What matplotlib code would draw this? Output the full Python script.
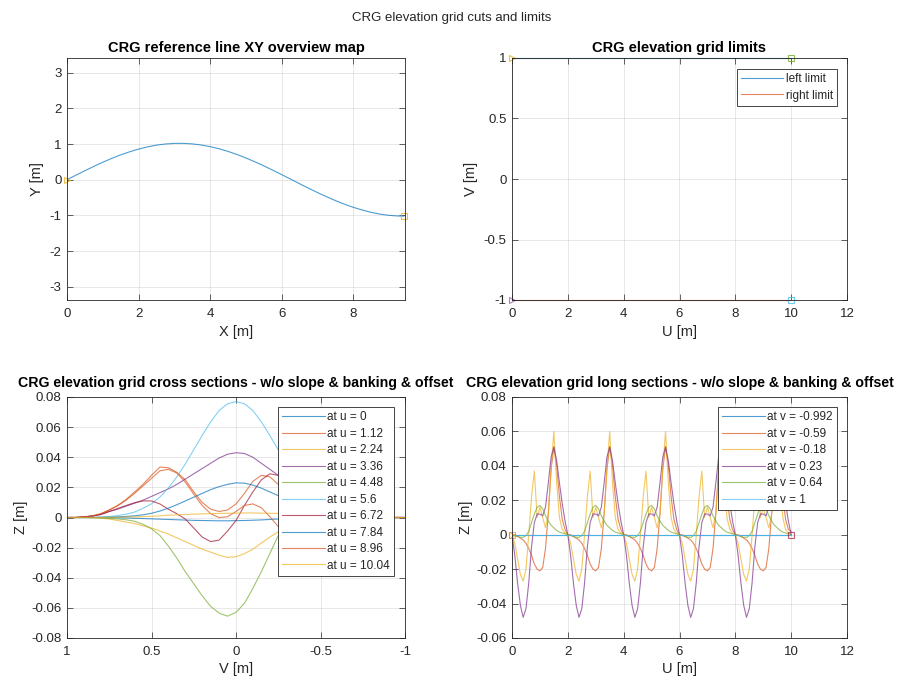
import numpy as np
import matplotlib
matplotlib.use('Agg')
import matplotlib.pyplot as plt
from matplotlib.ticker import FuncFormatter, MultipleLocator

plt.rcParams['font.family'] = ['Liberation Sans', 'DejaVu Sans']
plt.rcParams['axes.unicode_minus'] = False

# ---------------- data ----------------
# reference line XY
ref_x = [0.0, 0.25, 0.5, 0.75, 1.0, 1.25, 1.5, 1.75, 2.0, 2.25, 2.5, 2.75, 3.0, 3.25,
         3.5, 3.75, 4.0, 4.25, 4.5, 4.75, 5.0, 5.25, 5.5, 5.75, 6.0, 6.25, 6.5, 6.75,
         7.0, 7.25, 7.5, 7.75, 8.0, 8.25, 8.5, 8.75, 9.0, 9.25, 9.42]
ref_y = [0.0, 0.127, 0.252, 0.373, 0.489, 0.597, 0.696, 0.782, 0.858, 0.920, 0.968,
         1.001, 1.017, 1.019, 1.004, 0.973, 0.927, 0.867, 0.794, 0.708, 0.610, 0.503,
         0.390, 0.269, 0.144, 0.017, -0.110, -0.236, -0.358, -0.474, -0.583, -0.683,
         -0.772, -0.848, -0.913, -0.964, -0.998, -1.016, -1.02]

# grid limits
lim_u = [0.0, 10.0]
left_limit = [1.0, 1.0]
right_limit = [-1.0, -1.0]

# cross sections (v from 1 to -1)
cs_v = np.round(np.linspace(1.0, -1.0, 41), 3)
cs_labels = ['at u = 0', 'at u = 1.12', 'at u = 2.24', 'at u = 3.36', 'at u = 4.48',
             'at u = 5.6', 'at u = 6.72', 'at u = 7.84', 'at u = 8.96', 'at u = 10.04']
cs_u0 = [0, 0, 0, 0, 0, -0.0001, -0.0002, -0.0003, -0.0005, -0.0007,
         -0.0009, -0.0011, -0.0013, -0.0015, -0.0017, -0.0019, -0.002, -0.0021, -0.0022, -0.0022,
         -0.0021, -0.002, -0.0018, -0.0016, -0.0013, -0.001, -0.0008, -0.0006, -0.0004, -0.0003,
         -0.0002, -0.0001, 0, 0, 0, 0, 0, 0, 0, 0, 0]
cs_u112 = [0, 0, 0.0003, 0.001, 0.0025, 0.005, 0.008, 0.012, 0.017, 0.022,
           0.028, 0.0335, 0.033, 0.030, 0.025, 0.017, 0.010, 0.0055, 0.004, 0.005,
           0.009, 0.016, 0.024, 0.028, 0.027, 0.022, 0.016, 0.011, 0.007, 0.004,
           0.0025, 0.0015, 0.0008, 0.0004, 0.0002, 0, 0, 0, 0, 0, 0]
cs_u224 = [0, 0, 0, -0.0002, -0.0005, -0.001, -0.002, -0.003, -0.004, -0.0055,
           -0.007, -0.009, -0.011, -0.0135, -0.016, -0.0185, -0.021, -0.023, -0.025, -0.0265,
           -0.026, -0.024, -0.021, -0.017, -0.013, -0.0095, -0.007, -0.005, -0.0035, -0.0025,
           -0.0018, -0.0012, -0.0008, -0.0005, -0.0003, -0.0001, 0, 0, 0, 0, 0]
cs_u336 = [0, 0, 0.0003, 0.001, 0.002, 0.004, 0.0055, 0.0075, 0.0095, 0.0115,
           0.014, 0.0165, 0.019, 0.022, 0.0255, 0.029, 0.0325, 0.036, 0.0395, 0.042,
           0.043, 0.0425, 0.040, 0.036, 0.032, 0.028, 0.023, 0.018, 0.014, 0.010,
           0.007, 0.005, 0.003, 0.002, 0.001, 0.0005, 0.0002, 0, 0, 0, 0]
cs_u448 = [0, 0, 0, -0.0001, -0.0003, -0.0006, -0.001, -0.0015, -0.0025, -0.0045,
           -0.0075, -0.012, -0.019, -0.027, -0.036, -0.044, -0.052, -0.059, -0.0635, -0.0655,
           -0.063, -0.057, -0.047, -0.036, -0.024, -0.012, -0.005, -0.001, 0.0005, 0.0005,
           0.0003, 0.0001, 0, 0, 0, 0, 0, 0, 0, 0, 0]
cs_u560 = [0, 0, 0, 0.0001, 0.0003, 0.0006, 0.0013, 0.0022, 0.0036, 0.0061,
           0.0091, 0.0136, 0.0196, 0.027, 0.0355, 0.045, 0.0545, 0.0635, 0.071, 0.0755,
           0.077, 0.0755, 0.071, 0.0635, 0.0545, 0.045, 0.0355, 0.027, 0.0196, 0.0136,
           0.0091, 0.0061, 0.0036, 0.0022, 0.0013, 0.0006, 0.0003, 0.0001, 0, 0, 0]
cs_u672 = [0, 0, 0.0005, 0.001, 0.002, 0.004, 0.006, 0.008, 0.0098, 0.011,
           0.011, 0.009, 0.0055, 0.0025, -0.001, -0.007, -0.013, -0.016, -0.015, -0.009,
           -0.002, 0.008, 0.017, 0.025, 0.029, 0.028, 0.024, 0.018, 0.012, 0.008,
           0.005, 0.003, 0.0015, 0.0007, 0.0003, 0, 0, 0, 0, 0, 0]
cs_u784 = [0, 0, 0, 0, 0.0001, 0.0002, 0.0004, 0.0007, 0.0011, 0.0018,
           0.0028, 0.0043, 0.0062, 0.0085, 0.011, 0.0135, 0.016, 0.0185, 0.0205, 0.022,
           0.023, 0.0228, 0.0215, 0.0195, 0.017, 0.0145, 0.012, 0.0095, 0.007, 0.005,
           0.0035, 0.0022, 0.0013, 0.0007, 0.0003, 0.0001, 0, 0, 0, 0, 0]
cs_u896 = [0, 0, 0.0003, 0.001, 0.0025, 0.005, 0.0078, 0.0115, 0.016, 0.021,
           0.026, 0.031, 0.032, 0.0295, 0.0235, 0.0155, 0.008, 0.0025, 0.0, 0.0005,
           0.004, 0.008, 0.009, 0.0065, 0.0005, -0.006, -0.009, -0.008, -0.005, -0.003,
           -0.0015, -0.0008, -0.0003, 0, 0, 0, 0, 0, 0, 0, 0]
cs_u1004 = [0, 0, 0, 0, 0, 0.0001, 0.0002, 0.0003, 0.0004, 0.0006,
            0.0008, 0.0011, 0.0015, 0.0018, 0.002, 0.0022, 0.0024, 0.0026, 0.0027, 0.0028,
            0.0029, 0.003, 0.003, 0.0029, 0.0028, 0.0027, 0.0025, 0.0023, 0.002, 0.0018,
            0.0015, 0.0012, 0.001, 0.0008, 0.0006, 0.0004, 0.0003, 0.0002, 0.0001, 0, 0]

# long sections (u from 0 to 10)
ls_u = np.round(np.linspace(0.0, 10.0, 101), 2)
ls_labels = ['at v = -0.992', 'at v = -0.59', 'at v = -0.18', 'at v = 0.23', 'at v = 0.64', 'at v = 1']
ls_flat_u = [0.0, 10.0]
ls_vm0992 = [0.0, 0.0]
ls_v1 = [0.0, 0.0]
ls_vm059 = [
    0.0, 0.0, -0.001, -0.002, -0.003, -0.005, -0.008, -0.012, -0.017, -0.020,
    -0.021, -0.019, -0.008, 0.012, 0.038, 0.051, 0.040, 0.022, 0.009, 0.003,
    0.0, 0.0, -0.001, -0.002, -0.003, -0.005, -0.008, -0.012, -0.017, -0.020,
    -0.021, -0.019, -0.008, 0.012, 0.038, 0.051, 0.040, 0.022, 0.009, 0.003,
    0.0, 0.0, -0.001, -0.002, -0.003, -0.005, -0.008, -0.012, -0.017, -0.020,
    -0.021, -0.019, -0.008, 0.012, 0.038, 0.051, 0.040, 0.022, 0.009, 0.003,
    0.0, 0.0, -0.001, -0.002, -0.003, -0.005, -0.008, -0.012, -0.017, -0.020,
    -0.021, -0.019, -0.008, 0.012, 0.038, 0.051, 0.040, 0.022, 0.009, 0.003,
    0.0, 0.0, -0.001, -0.002, -0.003, -0.005, -0.008, -0.012, -0.017, -0.020,
    -0.021, -0.019, -0.008, 0.012, 0.038, 0.051, 0.040, 0.022, 0.009, 0.003,
    0.002]
ls_vm018 = [
    0.0, -0.005, -0.014, -0.023, -0.027, -0.020, 0.000, 0.022, 0.037, 0.010,
    0.016, 0.010, 0.004, 0.012, 0.038, 0.060, 0.030, 0.010, 0.003, 0.001,
    0.0, -0.005, -0.014, -0.023, -0.027, -0.020, 0.000, 0.022, 0.037, 0.010,
    0.016, 0.010, 0.004, 0.012, 0.038, 0.060, 0.030, 0.010, 0.003, 0.001,
    0.0, -0.005, -0.014, -0.023, -0.027, -0.020, 0.000, 0.022, 0.037, 0.010,
    0.016, 0.010, 0.004, 0.012, 0.038, 0.060, 0.030, 0.010, 0.003, 0.001,
    0.0, -0.005, -0.014, -0.023, -0.027, -0.020, 0.000, 0.022, 0.037, 0.010,
    0.016, 0.010, 0.004, 0.012, 0.038, 0.060, 0.030, 0.010, 0.003, 0.001,
    0.0, -0.005, -0.014, -0.023, -0.027, -0.020, 0.000, 0.022, 0.037, 0.010,
    0.016, 0.010, 0.004, 0.012, 0.038, 0.060, 0.030, 0.010, 0.003, 0.001,
    0.0]
ls_v023 = [
    0.0, -0.012, -0.028, -0.041, -0.048, -0.043, -0.028, -0.007, 0.007, 0.012,
    0.012, 0.011, 0.016, 0.030, 0.045, 0.051, 0.043, 0.030, 0.018, 0.008,
    0.0, -0.012, -0.028, -0.041, -0.048, -0.043, -0.028, -0.007, 0.007, 0.012,
    0.012, 0.011, 0.016, 0.030, 0.045, 0.051, 0.043, 0.030, 0.018, 0.008,
    0.0, -0.012, -0.028, -0.041, -0.048, -0.043, -0.028, -0.007, 0.007, 0.012,
    0.012, 0.011, 0.016, 0.030, 0.045, 0.051, 0.043, 0.030, 0.018, 0.008,
    0.0, -0.012, -0.028, -0.041, -0.048, -0.043, -0.028, -0.007, 0.007, 0.012,
    0.012, 0.011, 0.016, 0.030, 0.045, 0.051, 0.043, 0.030, 0.018, 0.008,
    0.0, -0.012, -0.028, -0.041, -0.048, -0.043, -0.028, -0.007, 0.007, 0.012,
    0.012, 0.011, 0.016, 0.030, 0.045, 0.051, 0.043, 0.030, 0.018, 0.008,
    0.0]
ls_v064 = [
    0.0, -0.0005, -0.001, -0.0015, -0.0015, -0.0005, 0.002, 0.007, 0.012, 0.016,
    0.017, 0.015, 0.011, 0.008, 0.0055, 0.004, 0.0025, 0.0015, 0.001, 0.0005,
    0.0, -0.0005, -0.001, -0.0015, -0.0015, -0.0005, 0.002, 0.007, 0.012, 0.016,
    0.017, 0.015, 0.011, 0.008, 0.0055, 0.004, 0.0025, 0.0015, 0.001, 0.0005,
    0.0, -0.0005, -0.001, -0.0015, -0.0015, -0.0005, 0.002, 0.007, 0.012, 0.016,
    0.017, 0.015, 0.011, 0.008, 0.0055, 0.004, 0.0025, 0.0015, 0.001, 0.0005,
    0.0, -0.0005, -0.001, -0.0015, -0.0015, -0.0005, 0.002, 0.007, 0.012, 0.016,
    0.017, 0.015, 0.011, 0.008, 0.0055, 0.004, 0.0025, 0.0015, 0.001, 0.0005,
    0.0, -0.0005, -0.001, -0.0015, -0.0015, -0.0005, 0.002, 0.007, 0.012, 0.016,
    0.017, 0.015, 0.011, 0.008, 0.0055, 0.004, 0.0025, 0.0015, 0.001, 0.0005,
    0.0]

# ---------------- style ----------------
C = ['#0072BD', '#D95319', '#EDB120', '#7E2F8E', '#77AC30', '#4DBEEE', '#A2142F']
DARK = '#262626'
LW = 0.8
ALPHA = 0.7


def fmt(x, pos):
    if abs(x) < 1e-12:
        return '0'
    return f'{round(x, 10):g}'


def style(ax):
    ax.grid(True, color=DARK, alpha=0.15, linewidth=0.5)
    ax.set_axisbelow(True)
    for s in ax.spines.values():
        s.set_color(DARK)
        s.set_linewidth(0.6)
    ax.tick_params(direction='in', length=4, width=0.5, colors=DARK,
                   labelsize=9.5, top=True, right=True)
    ax.tick_params(axis='x', pad=6)
    ax.tick_params(axis='y', pad=4)
    ax.xaxis.set_major_formatter(FuncFormatter(fmt))
    ax.yaxis.set_major_formatter(FuncFormatter(fmt))


def legend(ax, handles, labels, anchor):
    lg = ax.legend(handles, labels, loc='upper right', bbox_to_anchor=anchor,
                   borderaxespad=0, fontsize=8.5, fancybox=False, framealpha=1,
                   edgecolor=DARK, handlelength=3.6, handletextpad=0.2,
                   labelspacing=0.38, borderpad=0.35)
    lg.get_frame().set_linewidth(0.6)
    for t in lg.get_texts():
        t.set_color(DARK)
    return lg


fig = plt.figure(figsize=(9.04, 6.82), dpi=100)
fig.text(0.5, 0.974, 'CRG elevation grid cuts and limits', ha='center', va='center',
         fontsize=9.5, color=DARK)

W = 904.0
H = 682.0
pos_tl = [67 / W, 1 - 300 / H, 338 / W, 242 / H]
pos_tr = [512 / W, 1 - 300 / H, 335 / W, 242 / H]
pos_bl = [67 / W, 1 - 638 / H, 338 / W, 241 / H]
pos_br = [512 / W, 1 - 638 / H, 335 / W, 241 / H]

# --- top left ---
ax1 = fig.add_axes(pos_tl)
style(ax1)
ax1.plot(ref_x, ref_y, color=C[0], lw=LW, alpha=ALPHA)
ax1.plot(ref_x[0], ref_y[0], marker='>', color=C[2], ms=5, mfc='none', mew=0.8, clip_on=False, alpha=0.8)
ax1.plot(ref_x[-1], ref_y[-1], marker='s', color=C[2], ms=5, mfc='none', mew=0.8, clip_on=False, alpha=0.8)
ax1.set_xlim(0, 9.45)
ax1.set_ylim(-3.37, 3.41)
ax1.xaxis.set_major_locator(MultipleLocator(2))
ax1.yaxis.set_major_locator(MultipleLocator(1))
ax1.set_title('CRG reference line XY overview map', fontsize=10.5, fontweight='bold', pad=4, color='black')
ax1.set_xlabel('X [m]', fontsize=10.5, color=DARK, labelpad=3)
ax1.set_ylabel('Y [m]', fontsize=10.5, color=DARK, labelpad=4)

# --- top right ---
ax2 = fig.add_axes(pos_tr)
style(ax2)
h1, = ax2.plot(lim_u, left_limit, color=C[0], lw=LW, alpha=ALPHA, clip_on=False)
h2, = ax2.plot(lim_u, right_limit, color=C[1], lw=LW, alpha=ALPHA, clip_on=False)
ax2.plot(lim_u[0], left_limit[0], marker='>', color=C[2], ms=5, mfc='none', mew=0.8, clip_on=False, alpha=0.8)
ax2.plot(lim_u[0], right_limit[0], marker='>', color=C[3], ms=5, mfc='none', mew=0.8, clip_on=False, alpha=0.6)
ax2.plot(lim_u[-1], left_limit[-1], marker='s', color=C[4], ms=5, mfc='none', mew=0.8, clip_on=False, alpha=0.8)
ax2.plot(lim_u[-1], right_limit[-1], marker='s', color=C[5], ms=5, mfc='none', mew=0.8, clip_on=False, alpha=0.8)
ax2.set_xlim(0, 12)
ax2.set_ylim(-1, 1)
ax2.xaxis.set_major_locator(MultipleLocator(2))
ax2.yaxis.set_major_locator(MultipleLocator(0.5))
ax2.set_title('CRG elevation grid limits', fontsize=10.5, fontweight='bold', pad=4, color='black')
ax2.set_xlabel('U [m]', fontsize=10.5, color=DARK, labelpad=3)
ax2.set_ylabel('V [m]', fontsize=10.5, color=DARK, labelpad=4)
legend(ax2, [h1, h2], ['left limit', 'right limit'], (0.970, 0.955))

# --- bottom left ---
ax3 = fig.add_axes(pos_bl)
style(ax3)
cs_series = [cs_u0, cs_u112, cs_u224, cs_u336, cs_u448, cs_u560, cs_u672, cs_u784, cs_u896, cs_u1004]
hs = []
for i, z in enumerate(cs_series):
    h, = ax3.plot(cs_v, z, color=C[i % 7], lw=LW, alpha=ALPHA)
    hs.append(h)
ax3.set_xlim(1, -1)
ax3.set_ylim(-0.08, 0.08)
ax3.xaxis.set_major_locator(MultipleLocator(0.5))
ax3.yaxis.set_major_locator(MultipleLocator(0.02))
ax3.set_title('CRG elevation grid cross sections - w/o slope & banking & offset',
              fontsize=10.2, fontweight='bold', pad=7, color='black')
ax3.set_xlabel('V [m]', fontsize=10.5, color=DARK, labelpad=3)
ax3.set_ylabel('Z [m]', fontsize=10.5, color=DARK, labelpad=2)
legend(ax3, hs, cs_labels, (0.967, 0.958))

# --- bottom right ---
ax4 = fig.add_axes(pos_br)
style(ax4)
hl = []
h, = ax4.plot(ls_flat_u, ls_vm0992, color=C[0], lw=LW, alpha=ALPHA)
hl.append(h)
for i, z in enumerate([ls_vm059, ls_vm018, ls_v023, ls_v064]):
    h, = ax4.plot(ls_u, z, color=C[i + 1], lw=LW, alpha=ALPHA)
    hl.append(h)
h, = ax4.plot(ls_flat_u, ls_v1, color=C[5], lw=LW, alpha=ALPHA)
hl.append(h)
ax4.plot(ls_flat_u[0], ls_v1[0], marker='>', color=C[2], ms=5, mfc='none', mew=0.8, clip_on=False, alpha=0.8)
ax4.plot(ls_flat_u[0], ls_v1[0], marker='s', color=C[1], ms=4, mfc='none', mew=0.6, clip_on=False, alpha=0.6)
ax4.plot(ls_flat_u[-1], ls_v1[-1], marker='s', color=C[6], ms=5, mfc='none', mew=0.8, clip_on=False, alpha=0.7)
ax4.set_xlim(0, 12)
ax4.set_ylim(-0.06, 0.08)
ax4.xaxis.set_major_locator(MultipleLocator(2))
ax4.yaxis.set_major_locator(MultipleLocator(0.02))
ax4.set_title('CRG elevation grid long sections - w/o slope & banking & offset',
              fontsize=10.2, fontweight='bold', pad=7, color='black')
ax4.set_xlabel('U [m]', fontsize=10.5, color=DARK, labelpad=3)
ax4.set_ylabel('Z [m]', fontsize=10.5, color=DARK, labelpad=2)
legend(ax4, hl, ls_labels, (0.970, 0.958))

fig.savefig('out.png', dpi=100)
